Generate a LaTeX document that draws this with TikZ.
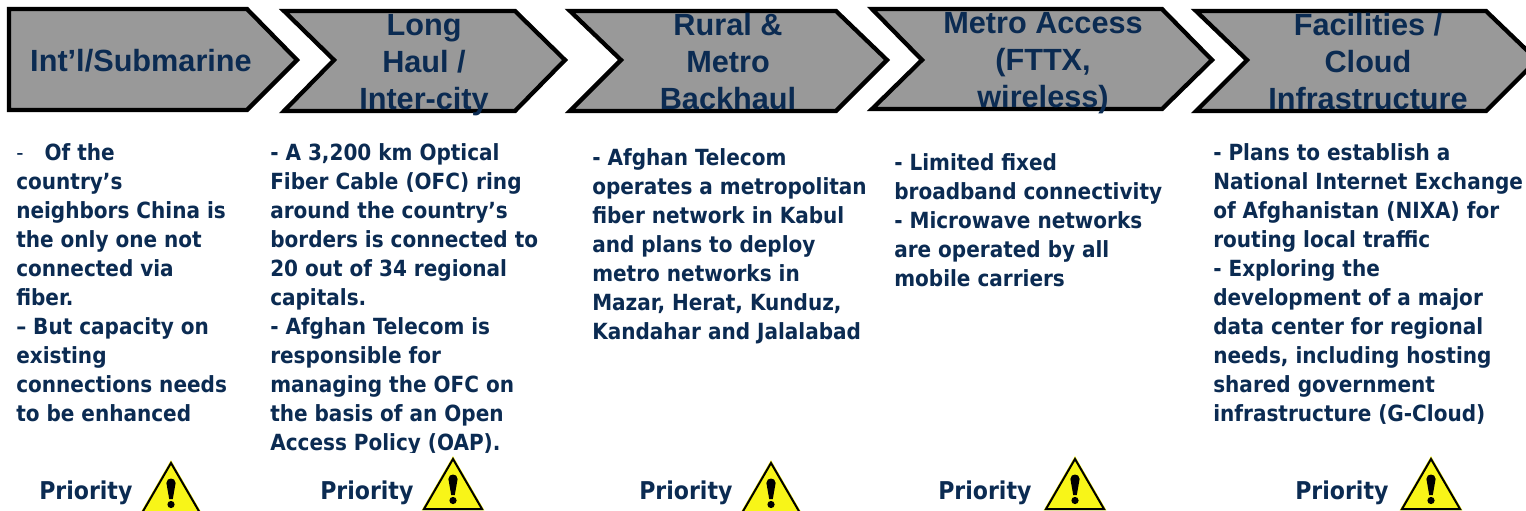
\documentclass[tikz,border=0pt]{standalone}
\usepackage{fontspec}
\setmainfont{DejaVu Sans Condensed}
\newfontfamily\headfont{Liberation Sans}
\definecolor{navy}{HTML}{0B2B52}
\definecolor{chevgray}{HTML}{999999}
\definecolor{warnyellow}{HTML}{F8F518}
\tikzset{
  chev/.style={draw=black,fill=chevgray,line width=3.2pt,miter limit=10},
  headtext/.style={font=\headfont\bfseries\fontsize{23}{27.75}\selectfont,text=navy,align=center,inner sep=0pt,anchor=center},
  bodytext/.style={font=\bfseries\fontsize{16.7}{21.75}\selectfont,text=navy,align=left,inner sep=0pt,anchor=base west},
  prio/.style={font=\bfseries\fontsize{18.4}{20}\selectfont,text=navy,inner sep=0pt,anchor=base west},
}
\newcommand{\warnsign}[2]{%
  \draw[warnyellow,line width=2.2pt,line join=miter] (#1,#2) -- (#1+29,#2+50) -- (#1-29,#2+50) -- cycle;
  \draw[fill=warnyellow,draw=black,line width=1.5pt,line join=miter] (#1,#2) -- (#1+29,#2+50) -- (#1-29,#2+50) -- cycle;
  \fill[black] (#1-4.6,#2+20) .. controls (#1-4.6,#2+14) and (#1+4.6,#2+14) .. (#1+4.6,#2+20) -- (#1+1.8,#2+36) -- (#1-1.8,#2+36) -- cycle;
  \fill[black] (#1,#2+41.5) circle (3.6);
}
\begin{document}
\begin{tikzpicture}[x=0.75pt,y=-0.75pt]
\useasboundingbox (0,0) rectangle (1526,510);
\clip (0,0) rectangle (1526,510);
% chevrons
\draw[chev] (9,9) -- (247,9) -- (297,60) -- (247,110) -- (9,110) -- cycle;
\draw[chev] (284,11) -- (515,11) -- (565,60) -- (515,111) -- (284,111) -- (334,60) -- cycle;
\draw[chev] (570,11) -- (836,11) -- (887,60) -- (836,111) -- (570,111) -- (621,60) -- cycle;
\draw[chev] (872,9) -- (1162,9) -- (1212,60) -- (1162,109) -- (872,109) -- (922,60) -- cycle;
\draw[chev] (1196,11) -- (1486,11) -- (1537,60) -- (1486,111) -- (1196,111) -- (1247,60) -- cycle;
% headings
\node[headtext] (h1) at (141,61) {Int’l/Submarine};
\node[headtext] (h2) at (424,65) {Long\\Haul /\\Inter-city};
\node[headtext] (h3) at (728,61.5) {Rural \&\\Metro\\Backhaul};
\node[headtext] (h4) at (1043,63) {Metro Access\\(FTTX,\\wireless)};
\node[headtext] (h5) at (1368,61.5) {Facilities /\\Cloud\\Infrastructure};
% body
\node[bodytext] (b1) at (16,421.7) {{\mdseries -}\hspace{0.95em}Of the\\country’s\\neighbors China is\\the only one not\\connected via\\fiber.\\– But capacity on\\existing\\connections needs\\to be enhanced};
\begin{scope}
\clip (260,130) rectangle (560,452);
\node[bodytext] (b2) at (270,450.7) {- A 3,200 km Optical\\Fiber Cable (OFC) ring\\around the country’s\\borders is connected to\\20 out of 34 regional\\capitals.\\- Afghan Telecom is\\responsible for\\managing the OFC on\\the basis of an Open\\Access Policy (OAP).};
\end{scope}
\node[bodytext] (b3) at (592,339.7) {- Afghan Telecom\\operates a metropolitan\\fiber network in Kabul\\and plans to deploy\\metro networks in\\Mazar, Herat, Kunduz,\\Kandahar and Jalalabad};
\node[bodytext] (b4) at (894,286.7) {- Limited fixed\\broadband connectivity\\- Microwave networks\\are operated by all\\mobile carriers};
\node[bodytext] (b5) at (1213,421.7) {- Plans to establish a\\National Internet Exchange\\of Afghanistan (NIXA) for\\routing local traffic\\- Exploring the\\development of a major\\data center for regional\\needs, including hosting\\shared government\\infrastructure (G-Cloud)};
% priority
\node[prio] (p1) at (39,499) {Priority};
\node[prio] (p2) at (320,499) {Priority};
\node[prio] (p3) at (639,499) {Priority};
\node[prio] (p4) at (938,499) {Priority};
\node[prio] (p5) at (1295,499) {Priority};
\warnsign{171}{463}
\warnsign{453}{459}
\warnsign{771}{463}
\warnsign{1075}{459}
\warnsign{1431}{459}
\end{tikzpicture}
\end{document}
